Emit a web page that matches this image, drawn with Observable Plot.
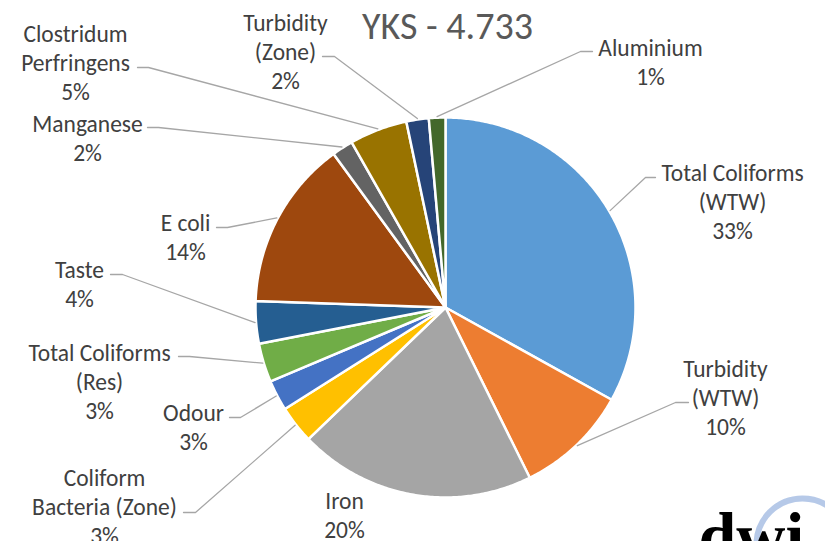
<!DOCTYPE html>
<html><head><meta charset="utf-8">
<script src="https://cdn.jsdelivr.net/npm/d3@7"></script>
<script src="https://cdn.jsdelivr.net/npm/@observablehq/plot@0.6"></script>
<style>html,body{margin:0;padding:0;background:#fff}#chart svg{display:block}</style>
</head><body><div id="chart"></div>
<script>
// ---- data ----
const title = "YKS - 4.733";
const categories = ["Total Coliforms (WTW)", "Turbidity (WTW)", "Iron", "Coliform Bacteria (Zone)", "Odour", "Total Coliforms (Res)", "Taste", "E coli", "Manganese", "Clostridum Perfringens", "Turbidity (Zone)", "Aluminium"];
const values = [33.0, 9.6, 20.1, 3.2, 2.6, 3.3, 3.6, 14.4, 1.8, 4.9, 1.9, 1.4];
const labelLines = [["Total Coliforms", "(WTW)"], ["Turbidity", "(WTW)"], ["Iron"], ["Coliform", "Bacteria (Zone)"], ["Odour"], ["Total Coliforms", "(Res)"], ["Taste"], ["E coli"], ["Manganese"], ["Clostridum", "Perfringens"], ["Turbidity", "(Zone)"], ["Aluminium"]];
const colors = ["#5B9BD5", "#ED7D31", "#A5A5A5", "#FFC000", "#4472C4", "#70AD47", "#255E91", "#9E480E", "#636363", "#997300", "#264478", "#43682B"];
const logoText = "dwi";

// ---- layout (not data) ----
const W = 825, H = 541, cx = 445, cy = 307, R = 190;
const FS = 23.5, LH = 29, FONT = "Carlito, Calibri, Lato, sans-serif";
// text centre x, first baseline y, leader start [x,y], elbow x
const layout = [
  {x: 732, b: 177, lead: [655, 177, 645]},
  {x: 725, b: 373, lead: [688, 402, 675]},
  {x: 344, b: 505, lead: null},
  {x: 104, b: 482, lead: [183, 512, 195]},
  {x: 193, b: 417, lead: [229, 417, 240]},
  {x: 99,  b: 357, lead: [178, 356, 189]},
  {x: 79,  b: 274, lead: [110, 274, 122]},
  {x: 185, b: 227, lead: [216, 227, 227]},
  {x: 87,  b: 128, lead: [147, 127, 158]},
  {x: 75,  b: 38,  lead: [137, 67, 148]},
  {x: 285, b: 27,  lead: [322, 56, 334]},
  {x: 650, b: 52,  lead: [592, 51, 580]}
];

const total = d3.sum(values);
const arcs = d3.pie().sort(null).value(d => d)(values);
const pt = (a, r) => ({x: cx + r * Math.sin(a), y: cy - r * Math.cos(a)});

const sliceMarks = arcs.map((p, i) => {
  const n = Math.max(3, Math.ceil((p.endAngle - p.startAngle) / 0.01));
  const pts = [{x: cx, y: cy}];
  for (let k = 0; k <= n; ++k) pts.push(pt(p.startAngle + (p.endAngle - p.startAngle) * k / n, R));
  return Plot.line(pts, {x: "x", y: "y", curve: "linear-closed", fill: colors[i], stroke: "white", strokeWidth: 2.5, strokeLinejoin: "round"});
});

const leaderMarks = arcs.map((p, i) => {
  const L = layout[i].lead;
  if (!L) return null;
  const end = pt((p.startAngle + p.endAngle) / 2, R + 1);
  return Plot.line([{x: L[0], y: L[1]}, {x: L[2], y: L[1]}, end], {x: "x", y: "y", stroke: "#A6A6A6", strokeWidth: 1.3});
}).filter(Boolean);

const labelRows = categories.map((c, i) => ({
  x: layout[i].x,
  y: layout[i].b - 0.71 * FS,
  text: [...labelLines[i], Math.round(values[i] / total * 100) + "%"].join("\n")
}));

const chart = Plot.plot({
  width: W, height: H, margin: 0,
  x: {domain: [0, W], range: [0, W], axis: null},
  y: {domain: [0, H], range: [0, H], axis: null},
  marks: [
    Plot.dot([{x: 802, y: 544}], {x: "x", y: "y", r: 46, stroke: "#A9C0E4", strokeWidth: 6, fill: "none", strokeOpacity: 0.85}),
    Plot.text([{x: 698, y: 558, t: logoText}], {x: "x", y: "y", text: "t", textAnchor: "start", lineAnchor: "bottom", fontFamily: "Liberation Serif, DejaVu Serif, serif", fontWeight: "bold", fontSize: 68, fill: "#000", letterSpacing: -3}),
    ...sliceMarks,
    ...leaderMarks,
    Plot.text(labelRows, {x: "x", y: "y", text: "text", textAnchor: "middle", lineAnchor: "top", lineHeight: LH / FS, fontSize: FS, fontFamily: FONT, fill: "#404040"}),
    Plot.text([{x: 447, y: 38, t: title}], {x: "x", y: "y", text: "t", textAnchor: "middle", lineAnchor: "bottom", fontSize: 38, fontFamily: FONT, fill: "#595959"})
  ]
});
document.getElementById("chart").append(chart);
</script>
</body></html>
